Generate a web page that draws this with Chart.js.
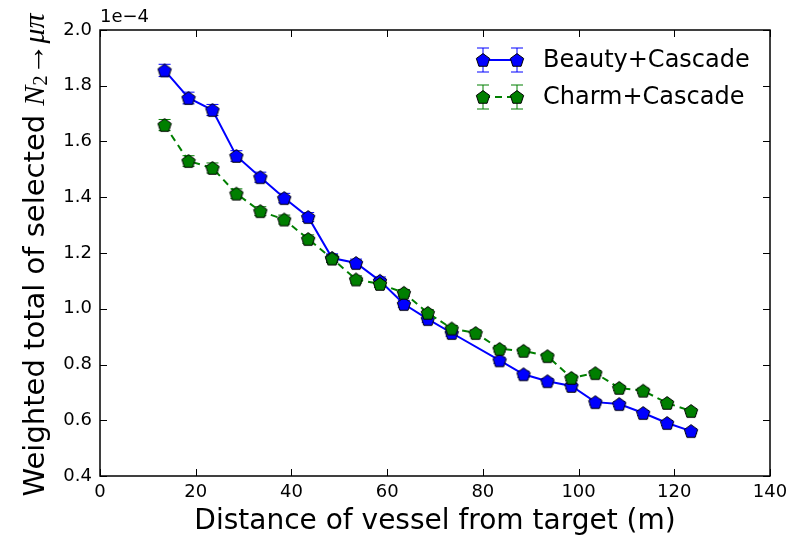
<!DOCTYPE html>
<html lang="en">
<head>
<meta charset="UTF-8">
<title>Weighted total of selected N2 -> mu pi vs distance</title>
<script src="https://cdn.jsdelivr.net/npm/chart.js"></script>
<style>
  html, body { margin: 0; padding: 0; background: #fff; }
</style>
</head>
<body>
<canvas id="chart" width="800" height="540"></canvas>
<script>
// values in units of 1e-4
const distances = [13.5, 18.5, 23.5, 28.5, 33.5, 38.5, 43.5, 48.5, 53.5, 58.5, 63.5, 68.5,
                   73.5, 78.5, 83.5, 88.5, 93.5, 98.5, 103.5, 108.5, 113.5, 118.5, 123.5];
const beauty = [1.855, 1.756, 1.713, 1.548, 1.472, 1.397, 1.329, 1.182, 1.164, 1.100, 1.017, 0.963,
                0.913, null, 0.815, 0.765, 0.740, 0.723, 0.665, 0.658, 0.626, 0.590, 0.561];
const beautyErr = [0.022, 0.021, 0.020, 0.019, 0.018, 0.017, 0.016, 0.015, 0.014, 0.014, 0.013, 0.012,
                   0.012, null, 0.011, 0.011, 0.010, 0.010, 0.010, 0.009, 0.009, 0.009, 0.008];
const charm = [1.659, 1.530, 1.505, 1.413, 1.350, 1.320, 1.250, 1.180, 1.105, 1.089, 1.057, 0.985,
               0.929, 0.913, 0.856, 0.849, 0.830, 0.752, 0.769, 0.716, 0.706, 0.662, 0.633];
const charmErr = [0.020, 0.019, 0.018, 0.017, 0.016, 0.016, 0.015, 0.014, 0.013, 0.013, 0.012, 0.012,
                  0.011, 0.011, 0.011, 0.010, 0.010, 0.010, 0.009, 0.009, 0.009, 0.008, 0.008];
const xTicks = [0, 20, 40, 60, 80, 100, 120, 140];
const yTicks = [0.4, 0.6, 0.8, 1.0, 1.2, 1.4, 1.6, 1.8, 2.0];
const seriesNames = ['Beauty+Cascade', 'Charm+Cascade'];

const BLUE = '#0000ff';
const GREEN = '#007f00';

// pentagon marker drawn once into a small canvas
function pentagon(fill) {
    const c = document.createElement('canvas');
    c.width = 16; c.height = 16;
    const g = c.getContext('2d');
    const r = 7;
    g.beginPath();
    for (let i = 0; i < 5; i++) {
        const a = -Math.PI / 2 + i * 2 * Math.PI / 5;
        const px = 8 + r * Math.cos(a), py = 8.6 + r * Math.sin(a);
        if (i === 0) g.moveTo(px, py); else g.lineTo(px, py);
    }
    g.closePath();
    g.fillStyle = fill;
    g.fill();
    g.lineWidth = 1;
    g.strokeStyle = '#000';
    g.stroke();
    return c;
}
const blueMark = pentagon(BLUE);
const greenMark = pentagon(GREEN);

const toPoints = vals => distances.map((d, i) => ({ x: d, y: vals[i] }));

// error bars behind the lines and markers
const errorBars = {
    id: 'errorBars',
    beforeDatasetsDraw(chart) {
        const { ctx, scales: { x, y } } = chart;
        const errs = [beautyErr, charmErr];
        ctx.save();
        chart.data.datasets.forEach((ds, i) => {
            ctx.strokeStyle = ds.borderColor;
            ctx.lineWidth = 1;
            ds.data.forEach((p, k) => {
                if (p.y == null) return;
                const px = x.getPixelForValue(p.x);
                const t = y.getPixelForValue(p.y + errs[i][k]);
                const b = y.getPixelForValue(p.y - errs[i][k]);
                ctx.beginPath();
                ctx.moveTo(px, t); ctx.lineTo(px, b);
                ctx.moveTo(px - 6, t); ctx.lineTo(px + 6, t);
                ctx.moveTo(px - 6, b); ctx.lineTo(px + 6, b);
                ctx.stroke();
            });
        });
        ctx.restore();
    }
};

// box, inward ticks, offset text, titles and legend
const decorations = {
    id: 'decorations',
    afterDraw(chart) {
        const { ctx, chartArea: a, scales: { x, y } } = chart;
        ctx.save();
        ctx.strokeStyle = '#000';
        ctx.lineWidth = 1;
        ctx.beginPath();
        xTicks.forEach(v => {
            const px = Math.round(x.getPixelForValue(v)) + 0.5;
            ctx.moveTo(px, a.bottom); ctx.lineTo(px, a.bottom - 7);
            ctx.moveTo(px, a.top); ctx.lineTo(px, a.top + 7);
        });
        yTicks.forEach(v => {
            const py = Math.round(y.getPixelForValue(v)) + 0.5;
            ctx.moveTo(a.left, py); ctx.lineTo(a.left + 7, py);
            ctx.moveTo(a.right, py); ctx.lineTo(a.right - 7, py);
        });
        ctx.stroke();
        ctx.lineWidth = 1.5;
        ctx.strokeRect(a.left, a.top, a.right - a.left, a.bottom - a.top);

        ctx.fillStyle = '#000';
        ctx.font = '18px "DejaVu Sans"';
        ctx.textAlign = 'left';
        ctx.textBaseline = 'alphabetic';
        ctx.fillText('1e\u22124', a.left, a.top - 8);

        // x title
        ctx.font = '28px "DejaVu Sans"';
        ctx.textAlign = 'center';
        ctx.textBaseline = 'middle';
        ctx.fillText('Distance of vessel from target (m)', (a.left + a.right) / 2, 522);

        // y title with math part
        const parts = [
            { t: 'Weighted total of selected ', f: '29px "DejaVu Sans"', dy: 0 },
            { t: 'N', f: 'italic 30px "Liberation Serif"', dy: 0 },
            { t: '2', f: '20px "Liberation Serif"', dy: 6 },
            { t: '\u2192', f: '32px "Liberation Serif"', dy: 0 },
            { t: '\u03bc\u03c0', f: 'italic 30px "Liberation Serif"', dy: 0 }
        ];
        let total = 0;
        parts.forEach(p => { ctx.font = p.f; p.w = ctx.measureText(p.t).width; total += p.w; });
        ctx.translate(36, 255);
        ctx.rotate(-Math.PI / 2);
        ctx.textAlign = 'left';
        ctx.textBaseline = 'middle';
        let cx = -total / 2;
        parts.forEach(p => {
            ctx.font = p.f;
            ctx.fillText(p.t, cx, p.dy);
            cx += p.w;
        });
        ctx.setTransform(1, 0, 0, 1, 0, 0);

        // legend
        const rows = [
            { name: seriesNames[0], color: BLUE, mark: blueMark, dash: [], y: 60 },
            { name: seriesNames[1], color: GREEN, mark: greenMark, dash: [7, 5], y: 97 }
        ];
        rows.forEach(r => {
            ctx.strokeStyle = r.color;
            ctx.lineWidth = 1;
            ctx.setLineDash([]);
            [483, 517].forEach(mx => {
                ctx.beginPath();
                ctx.moveTo(mx, r.y - 12); ctx.lineTo(mx, r.y + 12);
                ctx.moveTo(mx - 6, r.y - 12); ctx.lineTo(mx + 6, r.y - 12);
                ctx.moveTo(mx - 6, r.y + 12); ctx.lineTo(mx + 6, r.y + 12);
                ctx.stroke();
            });
            ctx.lineWidth = 2;
            ctx.setLineDash(r.dash);
            ctx.beginPath();
            ctx.moveTo(483, r.y); ctx.lineTo(517, r.y);
            ctx.stroke();
            ctx.setLineDash([]);
            [483, 517].forEach(mx => ctx.drawImage(r.mark, mx - 8, r.y - 8));
            ctx.fillStyle = '#000';
            ctx.font = '24px "DejaVu Sans"';
            ctx.textAlign = 'left';
            ctx.textBaseline = 'middle';
            ctx.fillText(r.name, 543, r.y + 1);
        });
        ctx.restore();
    }
};

new Chart(document.getElementById('chart'), {
    type: 'line',
    data: {
        datasets: [
            {
                label: seriesNames[0],
                data: toPoints(beauty),
                borderColor: BLUE,
                borderWidth: 2,
                pointStyle: blueMark,
                spanGaps: true,
                order: 2
            },
            {
                label: seriesNames[1],
                data: toPoints(charm),
                borderColor: GREEN,
                borderWidth: 2,
                borderDash: [7, 5],
                pointStyle: greenMark,
                order: 1
            }
        ]
    },
    options: {
        responsive: false,
        animation: false,
        layout: { padding: { top: 30, right: 30, left: 0, bottom: 0 } },
        plugins: {
            legend: { display: false },
            tooltip: { enabled: false }
        },
        scales: {
            x: {
                type: 'linear',
                min: 0, max: 140,
                afterBuildTicks: s => { s.ticks = xTicks.map(v => ({ value: v })); },
                afterFit: s => { s.height = 64; },
                grid: { display: false, drawTicks: false },
                border: { display: false },
                ticks: { color: '#000', padding: 6, font: { family: 'DejaVu Sans', size: 18 }, maxRotation: 0 }
            },
            y: {
                min: 0.4, max: 2.0,
                afterBuildTicks: s => { s.ticks = yTicks.map(v => ({ value: v })); },
                afterFit: s => { s.width = 100; },
                grid: { display: false, drawTicks: false },
                border: { display: false },
                ticks: { color: '#000', padding: 8, font: { family: 'DejaVu Sans', size: 18 },
                         callback: v => v.toFixed(1) }
            }
        }
    },
    plugins: [errorBars, decorations]
});
</script>
</body>
</html>
